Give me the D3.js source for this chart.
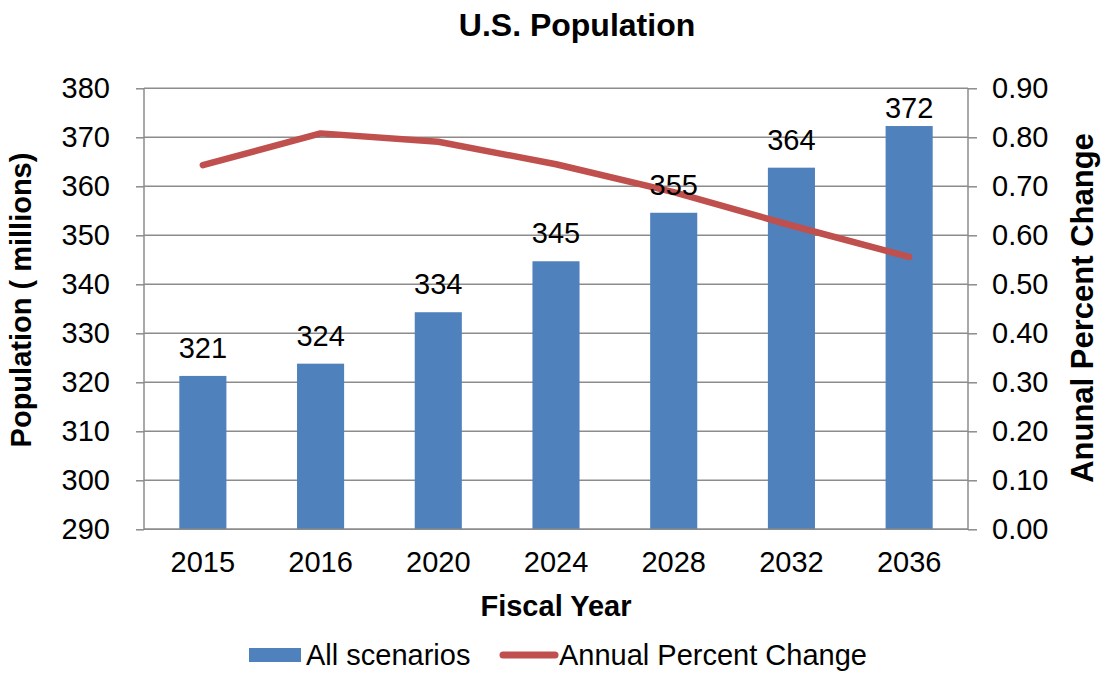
<!DOCTYPE html>
<html>
<head>
<meta charset="utf-8">
<script src="https://cdn.jsdelivr.net/npm/d3@7"></script>
<style>
  html, body { margin: 0; padding: 0; background: #fff; }
  svg { display: block; font-family: Arial, "Liberation Sans", sans-serif; }
</style>
</head>
<body>
<svg id="chart" width="1102" height="673"></svg>
<script>
const years = ["2015", "2016", "2020", "2024", "2028", "2032", "2036"];
const population = [321.3, 323.8, 334.3, 344.7, 354.6, 363.8, 372.3];
const populationLabels = ["321", "324", "334", "345", "355", "364", "372"];
const annualChange = [0.743, 0.808, 0.791, 0.745, 0.688, 0.62, 0.556];
const leftTicks = [290, 300, 310, 320, 330, 340, 350, 360, 370, 380];
const rightTicks = [0, 0.1, 0.2, 0.3, 0.4, 0.5, 0.6, 0.7, 0.8, 0.9];

const svg = d3.select("#chart");
const plot = { left: 144, right: 968, top: 88.3, bottom: 529.3 };
const gridColor = "#8c8c8c";
const barColor = "#4F81BD";
const lineColor = "#C0504D";

const x = d3.scaleBand().domain(years).range([plot.left, plot.right])
  .paddingInner(0.6).paddingOuter(0.3);
const yL = d3.scaleLinear().domain([290, 380]).range([plot.bottom, plot.top]);
const yR = d3.scaleLinear().domain([0, 0.9]).range([plot.bottom, plot.top]);

// gridlines
svg.append("g").selectAll("line").data(leftTicks).join("line")
  .attr("x1", plot.left).attr("x2", plot.right)
  .attr("y1", d => yL(d)).attr("y2", d => yL(d))
  .attr("stroke", gridColor).attr("stroke-width", 1.5);

// bars
svg.append("g").selectAll("rect").data(years).join("rect")
  .attr("x", d => x(d)).attr("width", x.bandwidth())
  .attr("y", (d, i) => yL(population[i]))
  .attr("height", (d, i) => plot.bottom - yL(population[i]))
  .attr("fill", barColor);

// left axis
const axL = svg.append("g").attr("transform", `translate(${plot.left},0)`)
  .call(d3.axisLeft(yL).tickValues(leftTicks).tickSize(8).tickPadding(26).tickFormat(d3.format("d")));
axL.select(".domain").attr("stroke", gridColor).attr("stroke-width", 1.5).attr("d", `M0,${plot.top}V${plot.bottom}`);
axL.selectAll(".tick line").attr("stroke", gridColor).attr("stroke-width", 1.5);
axL.selectAll("text").attr("font-size", 29).attr("fill", "#000").attr("font-family", "Arial, 'Liberation Sans', sans-serif");

// right axis
const axR = svg.append("g").attr("transform", `translate(${plot.right},0)`)
  .call(d3.axisRight(yR).tickValues(rightTicks).tickSize(9).tickPadding(15).tickFormat(d3.format(".2f")));
axR.select(".domain").attr("stroke", gridColor).attr("stroke-width", 1.5).attr("d", `M0,${plot.top}V${plot.bottom}`);
axR.selectAll(".tick line").attr("stroke", gridColor).attr("stroke-width", 1.5);
axR.selectAll("text").attr("font-size", 29).attr("fill", "#000").attr("font-family", "Arial, 'Liberation Sans', sans-serif");

// bottom axis
const axB = svg.append("g").attr("transform", `translate(0,${plot.bottom})`)
  .call(d3.axisBottom(x).tickSize(0).tickPadding(22));
axB.select(".domain").attr("stroke", gridColor).attr("stroke-width", 1.5).attr("d", `M${plot.left},0H${plot.right}`);
axB.selectAll("text").attr("font-size", 29).attr("fill", "#000").attr("font-family", "Arial, 'Liberation Sans', sans-serif");

// line
const line = d3.line().x((d, i) => x(years[i]) + x.bandwidth() / 2).y(d => yR(d));
svg.append("path").datum(annualChange).attr("d", line)
  .attr("fill", "none").attr("stroke", lineColor).attr("stroke-width", 6.5)
  .attr("stroke-linecap", "round").attr("stroke-linejoin", "round");

// data labels
svg.append("g").selectAll("text").data(years).join("text")
  .attr("x", d => x(d) + x.bandwidth() / 2)
  .attr("y", (d, i) => Math.max(yL(population[i]) - 18, plot.top + 30))
  .attr("text-anchor", "middle").attr("font-size", 29).attr("fill", "#000")
  .text((d, i) => populationLabels[i]);

// title
svg.append("text").attr("x", 577).attr("y", 36).attr("text-anchor", "middle")
  .attr("font-size", 32).attr("font-weight", "bold").text("U.S. Population");

// axis titles
svg.append("text").attr("transform", `translate(31,300) rotate(-90)`)
  .attr("text-anchor", "middle").attr("font-size", 29).attr("font-weight", "bold")
  .text("Population ( millions)");
svg.append("text").attr("transform", `translate(1093,308) rotate(-90)`)
  .attr("text-anchor", "middle").attr("font-size", 31).attr("font-weight", "bold")
  .text("Anunal Percent Change");
svg.append("text").attr("x", 556).attr("y", 616).attr("text-anchor", "middle")
  .attr("font-size", 29).attr("font-weight", "bold").text("Fiscal Year");

// legend
const lg = svg.append("g");
lg.append("rect").attr("x", 249).attr("y", 648).attr("width", 52).attr("height", 14).attr("fill", barColor);
lg.append("text").attr("x", 306).attr("y", 665).attr("font-size", 29).text("All scenarios");
lg.append("line").attr("x1", 503).attr("x2", 555).attr("y1", 655).attr("y2", 655)
  .attr("stroke", lineColor).attr("stroke-width", 7).attr("stroke-linecap", "round");
lg.append("text").attr("x", 559).attr("y", 665).attr("font-size", 29).text("Annual Percent Change");
</script>
</body>
</html>
